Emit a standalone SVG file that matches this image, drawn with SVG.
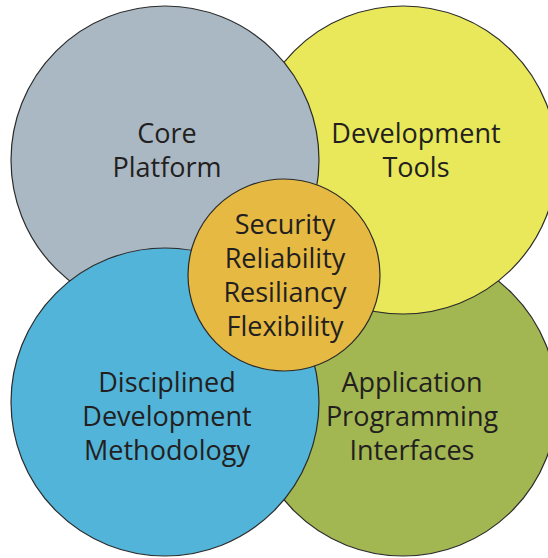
<svg xmlns="http://www.w3.org/2000/svg" width="548" height="558" viewBox="0 0 548 558">
<style>
.c{stroke:#2b2b2b;stroke-width:1.2}
.t{font-family:"Open Sans","Liberation Sans",sans-serif;font-size:27px;fill:#231f20;text-anchor:middle}
</style>
<rect width="548" height="558" fill="#ffffff"/>
<g id="connectors"></g>
<g id="api"><circle class="c" cx="403" cy="402" r="154" fill="#a2b652"/><text class="t" x="412" y="392">Application</text><text class="t" x="412" y="426">Programming</text><text class="t" x="412" y="460">Interfaces</text></g>
<g id="devtools"><circle class="c" cx="403" cy="160" r="154" fill="#e8e85a"/><text class="t" x="416" y="143">Development</text><text class="t" x="416" y="177">Tools</text></g>
<g id="core"><circle class="c" cx="165" cy="160" r="154" fill="#a9b8c3"/><text class="t" x="167" y="143">Core</text><text class="t" x="167" y="177">Platform</text></g>
<g id="method"><circle class="c" cx="165" cy="402" r="154" fill="#52b4d9"/><text class="t" x="167" y="392">Disciplined</text><text class="t" x="167" y="426">Development</text><text class="t" x="167" y="460">Methodology</text></g>
<g id="center"><circle class="c" cx="284" cy="275" r="96" fill="#e6b942"/><text class="t" x="285" y="234">Security</text><text class="t" x="285" y="268">Reliability</text><text class="t" x="285" y="302">Resiliancy</text><text class="t" x="285" y="336">Flexibility</text></g>
</svg>
